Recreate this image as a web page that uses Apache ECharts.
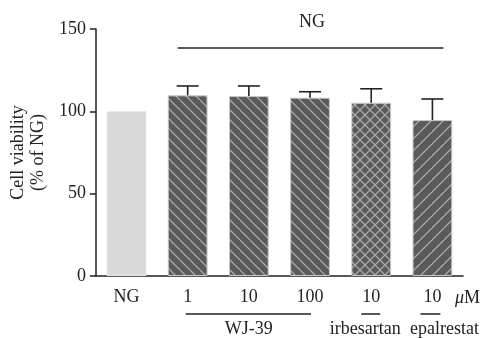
<!DOCTYPE html>
<html><head><meta charset="utf-8">
<script src="https://cdn.jsdelivr.net/npm/echarts@6/dist/echarts.min.js"></script>
<style>html,body{margin:0;padding:0;background:#fff}#c{width:485px;height:338px}</style>
</head><body><div id="c"></div>
<script>
const categories = ['NG', '1', '10', '100', '10', '10'];
const means = [100, 109.7, 109.3, 108.3, 105.2, 94.7];
const errors = [0, 5.7, 6.1, 3.6, 8.5, 12.8];
const yTicks = [0, 50, 100, 150];
const groupLabels = ['WJ-39', 'irbesartan', 'epalrestat'];
const topLabel = 'NG';
const unitLabel = 'μM';

const FONT = 'Liberation Serif';
const FS = 18;
const DARK = '#5b5959';
const STRIPE = '#a9a9a9';

function pattern(kind, size) {
  const c = document.createElement('canvas');
  c.width = size; c.height = size;
  const g = c.getContext('2d');
  g.fillStyle = DARK; g.fillRect(0, 0, size, size);
  g.strokeStyle = STRIPE; g.lineWidth = 1.3;
  function back() { g.beginPath(); g.moveTo(-1, -1); g.lineTo(size + 1, size + 1);
    g.moveTo(-size - 1, -1); g.lineTo(1, size + 1); g.moveTo(size - 1, -size - 1); g.lineTo(2 * size + 1, size + 1); g.stroke(); }
  function fwd() { g.beginPath(); g.moveTo(-1, size + 1); g.lineTo(size + 1, -1);
    g.moveTo(-size - 1, size + 1); g.lineTo(1, -1); g.moveTo(size - 1, 2 * size + 1); g.lineTo(2 * size + 1, size - 1); g.stroke(); }
  if (kind === 'back') back();
  else if (kind === 'fwd') fwd();
  else { back(); fwd(); }
  return { image: c, repeat: 'repeat' };
}

const fills = ['#d9d9d9', pattern('back', 10), pattern('back', 10), pattern('back', 10), pattern('cross', 10), pattern('fwd', 12)];

const chart = echarts.init(document.getElementById('c'), null, { renderer: 'canvas' });
const option = {
  animation: false,
  grid: { left: 92, right: 22, top: 29, bottom: 62 },
  xAxis: {
    type: 'category', data: categories,
    axisLine: { lineStyle: { color: '#222', width: 1.5 } },
    axisTick: { alignWithLabel: true, length: 5, lineStyle: { color: '#222', width: 1.5 } },
    axisLabel: { color: '#222', fontFamily: FONT, fontSize: FS, margin: 12 }
  },
  yAxis: {
    type: 'value', min: 0, max: 150, interval: 50,
    name: 'Cell viability\n(% of NG)', nameLocation: 'middle', nameGap: 40,
    nameTextStyle: { color: '#222', fontFamily: FONT, fontSize: FS, lineHeight: 20 },
    axisLine: { show: true, lineStyle: { color: '#222', width: 1.5 } },
    axisTick: { show: true, length: 6, lineStyle: { color: '#222', width: 1.5 } },
    axisLabel: { color: '#222', fontFamily: FONT, fontSize: FS, margin: 10,
      formatter: v => yTicks.includes(v) ? String(v) : '' },
    splitLine: { show: false }
  },
  series: [
    {
      type: 'bar', barCategoryGap: '35%',
      data: means.map((v, i) => ({ value: v, itemStyle: { color: fills[i], borderColor: i === 0 ? '#e4e4e4' : '#c9c9c9', borderWidth: 1 } })),
      z: 2
    },
    {
      type: 'custom',
      data: means.map((v, i) => [i, v, v + errors[i]]),
      renderItem: function (params, api) {
        if (errors[api.value(0)] === 0) return null;
        const a = api.coord([api.value(0), api.value(1)]);
        const b = api.coord([api.value(0), api.value(2)]);
        const hw = 11;
        return { type: 'group', children: [
          { type: 'line', shape: { x1: a[0], y1: a[1], x2: b[0], y2: b[1] }, style: { stroke: '#222', lineWidth: 1.6 } },
          { type: 'line', shape: { x1: b[0] - hw, y1: b[1], x2: b[0] + hw, y2: b[1] }, style: { stroke: '#222', lineWidth: 1.6 } }
        ] };
      },
      z: 3
    }
  ]
};
chart.setOption(option);

function px(i, v) { return chart.convertToPixel({ xAxisIndex: 0, yAxisIndex: 0 }, [i, v]); }
const lineY = px(0, 138.5)[1];
const c1 = px(1, 0)[0], c3 = px(3, 0)[0], c4 = px(4, 0)[0], c5 = px(5, 0)[0];
const base = px(0, 0)[1];
const underY = base + 38;
const textY = base + 53;
const lbl = { fill: '#222', font: FS + 'px "' + FONT + '"', textAlign: 'center', textVerticalAlign: 'middle' };
chart.setOption({
  graphic: [
    { type: 'line', shape: { x1: c1 - 10, y1: lineY, x2: c5 + 11, y2: lineY }, style: { stroke: '#222', lineWidth: 1.5 } },
    { type: 'text', x: (c1 + c5) / 2 + 2, y: 22, style: Object.assign({ text: topLabel }, lbl) },
    { type: 'line', shape: { x1: c1 - 2, y1: underY, x2: c3 + 1, y2: underY }, style: { stroke: '#222', lineWidth: 1.5 } },
    { type: 'line', shape: { x1: c4 - 10, y1: underY, x2: c4 + 9, y2: underY }, style: { stroke: '#222', lineWidth: 1.5 } },
    { type: 'line', shape: { x1: c5 - 12, y1: underY, x2: c5 + 8, y2: underY }, style: { stroke: '#222', lineWidth: 1.5 } },
    { type: 'text', x: (c1 + c3) / 2, y: textY, style: Object.assign({ text: groupLabels[0] }, lbl) },
    { type: 'text', x: c4 - 6, y: textY, style: Object.assign({ text: groupLabels[1] }, lbl) },
    { type: 'text', x: c5 + 12, y: textY, style: Object.assign({ text: groupLabels[2] }, lbl) },
    { type: 'text', x: c5 + 35, y: base + 22, style: { text: '{i|μ}{n|M}', rich: {
      i: { fontStyle: 'italic', fontFamily: FONT, fontSize: FS, fill: '#222' },
      n: { fontFamily: FONT, fontSize: FS, fill: '#222' } }, textAlign: 'center', textVerticalAlign: 'middle' } }
  ]
});
</script></body></html>
